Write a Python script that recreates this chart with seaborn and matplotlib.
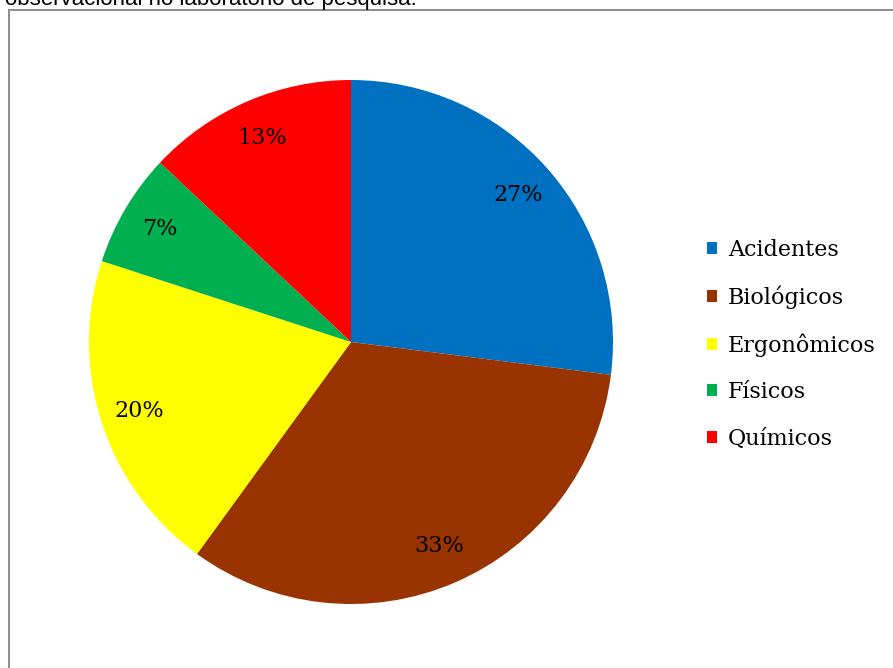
import matplotlib
matplotlib.use("Agg")
import matplotlib.pyplot as plt
from matplotlib.patches import Patch, Rectangle
import seaborn as sns

categories = ["Acidentes", "Biológicos", "Ergonômicos", "Físicos", "Químicos"]
values = [27, 33, 20, 7, 13]
colors = ["#0070C0", "#993300", "#FFFF00", "#00B050", "#FF0000"]
caption = "observacional no laboratório de pesquisa."

sns.set_style("white")
plt.rcParams["font.family"] = ["DejaVu Serif"]
plt.rcParams["text.color"] = "black"

W, H = 893, 668
fig = plt.figure(figsize=(W / 100, H / 100), dpi=100)
fig.patch.set_facecolor("white")

# frame border
fig.patches.append(Rectangle((9 / W, -0.1), 1.2, (H - 10) / H + 0.1, transform=fig.transFigure,
                             fill=False, edgecolor="#8c8c8c", linewidth=1.4))

# caption cut at top
fig.text(5 / W, (H - 5) / H, caption, family=["Liberation Sans"], fontsize=16,
         va="baseline", ha="left", color="black")

cx, cy, r = 351, 342, 262
ax = fig.add_axes([(cx - r) / W, (H - cy - r) / H, 2 * r / W, 2 * r / H])
wedges, texts, autotexts = ax.pie(
    values, colors=colors, startangle=90, counterclock=False,
    autopct=lambda p: f"{p:.0f}%", pctdistance=0.85,
    wedgeprops=dict(linewidth=0), textprops=dict(fontsize=16, color="black"),
)
ax.set_aspect("equal")
ax.set_xlim(-1, 1)
ax.set_ylim(-1, 1)
ax.axis("off")

handles = [Patch(facecolor=c, edgecolor="none") for c in colors]
leg = fig.legend(handles, categories, loc="upper left",
                 bbox_to_anchor=(707 / W, (H - 239) / H), frameon=False,
                 fontsize=16, handlelength=0.45, handleheight=0.45, handletextpad=0.5,
                 labelspacing=1.1, borderpad=0, borderaxespad=0)
for t in leg.get_texts():
    t.set_color("black")

fig.savefig("out.png", dpi=100)
